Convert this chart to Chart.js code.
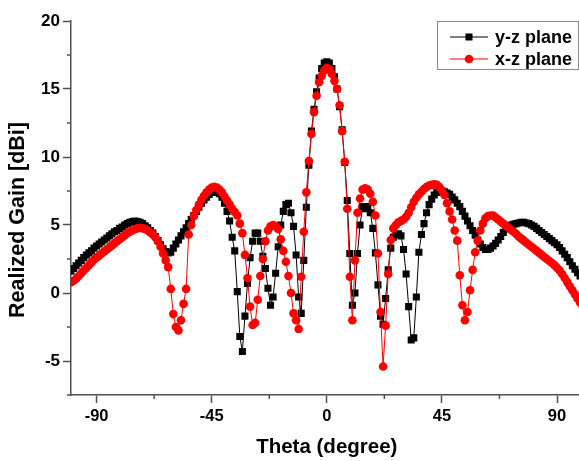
<!DOCTYPE html>
<html>
<head>
<meta charset="utf-8">
<script src="https://cdn.jsdelivr.net/npm/chart.js@4/dist/chart.umd.min.js"></script>
<style>
  html, body { margin: 0; padding: 0; background: #fff; overflow: hidden; }
  #wrap { width: 579px; height: 461px; overflow: hidden; }
</style>
</head>
<body>
<div id="wrap"><canvas id="gain" width="600" height="461"></canvas></div>
<script>
// sample angles, 1 degree apart
const theta = Array.from({ length: 201 }, (_, i) => i - 100);

// y-z plane, -100 .. 100 deg
const yzPlane = [
  1.6, 1.8, 2.0, 2.2, 2.4, 2.6, 2.8, 2.95, 3.1, 3.3,
  3.45, 3.6, 3.75, 3.9, 4.05, 4.2, 4.35, 4.5, 4.6, 4.75,
  4.85, 5.0, 5.1, 5.2, 5.25, 5.3, 5.25, 5.2, 5.1, 4.95,
  4.8, 4.6, 4.4, 4.15, 3.85, 3.55, 3.25, 3.05, 2.95, 3.0,
  3.3, 3.6, 3.9, 4.2, 4.5, 4.8, 5.1, 5.4, 5.7, 6.0,
  6.3, 6.6, 6.85, 7.05, 7.25, 7.4, 7.45, 7.4, 7.3, 7.05,
  6.6, 6.0, 5.3, 4.1, 3.1, 0.1, -3.2, -4.3, -1.7, 0.7,
  2.6, 3.8, 4.4, 4.4, 3.8, 2.7, 1.8, 0.35, -0.9, -0.3,
  1.45, 3.4, 5.0, 6.0, 6.5, 6.6, 5.9, 4.9, 2.8, -0.3,
  -1.5, 2.4, 6.3, 9.4, 11.9, 13.5, 14.8, 15.8, 16.5, 16.9,
  17.0,
  16.9, 16.5, 15.9, 15.0, 13.7, 12.0, 9.6, 6.8, 2.9, -0.9,
  0.0, 2.9, 5.0, 6.35, 6.2, 6.35, 5.9, 4.75, 2.95, 0.6,
  -1.7, -2.3, -0.4, 1.7, 3.3, 4.1, 4.3, 4.35, 4.2, 3.2,
  1.4, -1.0, -3.45, -3.3, -0.3, 3.0, 4.3, 5.1, 5.9, 6.5,
  6.9, 7.2, 7.4, 7.5, 7.5, 7.45, 7.35, 7.25, 7.05, 6.85,
  6.6, 6.35, 6.0, 5.65, 5.3, 4.95, 4.6, 4.25, 3.9, 3.6,
  3.35, 3.2, 3.2, 3.3, 3.45, 3.65, 3.9, 4.15, 4.45, 4.7,
  4.85, 5.0, 5.05, 5.1, 5.15, 5.2, 5.2, 5.15, 5.1, 5.0,
  4.9, 4.75, 4.6, 4.45, 4.3, 4.15, 4.0, 3.85, 3.7, 3.55,
  3.35, 3.1, 2.85, 2.6, 2.3, 2.0, 1.75, 1.5, 1.25, 1.0
];

// x-z plane, -100 .. 100 deg
const xzPlane = [
  0.8, 0.9, 1.05, 1.25, 1.45, 1.65, 1.85, 2.05, 2.25, 2.45,
  2.6, 2.75, 2.9, 3.05, 3.2, 3.35, 3.5, 3.65, 3.8, 3.95,
  4.1, 4.25, 4.4, 4.5, 4.6, 4.7, 4.75, 4.8, 4.75, 4.7,
  4.6, 4.45, 4.3, 4.1, 3.8, 3.4, 2.9, 2.4, 1.9, 0.3,
  -1.55, -2.5, -2.75, -2.0, -0.8, 0.3, 4.3, 5.0, 5.65, 6.1,
  6.5, 6.85, 7.15, 7.4, 7.6, 7.75, 7.8, 7.75, 7.6, 7.4,
  7.1, 6.8, 6.5, 6.2, 5.95, 5.7, 5.1, 4.4, 2.8, 1.1,
  -1.0, -2.35, -2.2, -0.5, 1.25, 2.5, 3.8, 4.6, 4.9, 5.0,
  4.9, 4.7, 3.95, 3.1, 2.3, 1.25, 0.0, -1.5, -2.0, -2.65,
  1.2, 4.5, 7.4, 9.7, 11.7, 13.3, 14.5, 15.5, 15.95, 16.35,
  16.55,
  16.45, 16.1, 15.6, 15.0, 13.8, 11.9, 9.65, 6.2, 1.2, -2.0,
  2.4, 5.9, 6.95, 7.6, 7.7, 7.6, 7.3, 6.7, 5.7, 2.9,
  -1.4, -5.4, -2.4, 1.4, 3.9, 4.75, 5.0, 5.2, 5.3, 5.4,
  5.6, 5.9, 6.3, 6.7, 7.0, 7.25, 7.45, 7.65, 7.8, 7.9,
  7.95, 8.0, 7.95, 7.8, 7.55, 7.2, 6.6, 6.0, 5.4, 4.6,
  3.85, 1.3, -0.9, -2.0, -1.4, 0.2, 1.7, 3.0, 3.85, 4.6,
  5.1, 5.5, 5.65, 5.7, 5.7, 5.55, 5.4, 5.25, 5.1, 4.95,
  4.8, 4.65, 4.5, 4.35, 4.15, 4.0, 3.85, 3.7, 3.55, 3.4,
  3.25, 3.1, 2.95, 2.8, 2.65, 2.5, 2.35, 2.2, 2.05, 1.85,
  1.65, 1.4, 1.1, 0.8, 0.5, 0.2, -0.1, -0.4, -0.7, -1.0
];

const xTicks = [-90, -45, 0, 45, 90];
const xMinor = [-67.5, -22.5, 22.5, 67.5];
const yTicks = [-5, 0, 5, 10, 15, 20];
const yMinor = [-7.5, -2.5, 2.5, 7.5, 12.5, 17.5];
const seriesNames = ["y-z plane", "x-z plane"];

const axisColor = "#505050";
const font = '"Liberation Sans", Arial, sans-serif';

const toPoints = (vals) => theta.map((t, i) => ({ x: t, y: vals[i] }));

// titles, minor ticks and the boxed legend
const extras = {
  id: "extras",
  afterDraw(chart) {
    const ctx = chart.ctx;
    const xs = chart.scales.x;
    const ys = chart.scales.y;
    const area = chart.chartArea;

    ctx.save();
    ctx.strokeStyle = axisColor;
    ctx.lineWidth = 1.5;
    ctx.beginPath();
    xMinor.forEach((v) => {
      const px = xs.getPixelForValue(v);
      ctx.moveTo(px, area.bottom);
      ctx.lineTo(px, area.bottom + 4);
    });
    yMinor.forEach((v) => {
      const py = ys.getPixelForValue(v);
      ctx.moveTo(area.left, py);
      ctx.lineTo(area.left - 4, py);
    });
    ctx.stroke();

    ctx.fillStyle = "#000";
    ctx.font = "bold 20.5px " + font;
    ctx.textAlign = "center";
    ctx.textBaseline = "middle";
    ctx.fillText("Theta (degree)", (area.left + area.right) / 2, 447);

    ctx.save();
    ctx.translate(18, 220);
    ctx.rotate(-Math.PI / 2);
    ctx.font = "bold 21.5px " + font;
    ctx.fillText("Realized Gain [dBi]", 0, 0);
    ctx.restore();

    // legend box
    ctx.strokeStyle = "#8a8a8a";
    ctx.lineWidth = 1;
    ctx.strokeRect(437.5, 21.5, 141, 48);

    const rows = [
      { y: 37, color: "#000000", style: "rect" },
      { y: 59, color: "#ff0000", style: "circle" },
    ];
    rows.forEach((r, i) => {
      ctx.strokeStyle = r.color;
      ctx.lineWidth = 1;
      ctx.beginPath();
      ctx.moveTo(450, r.y);
      ctx.lineTo(488, r.y);
      ctx.stroke();
      ctx.fillStyle = r.color;
      if (r.style === "rect") {
        ctx.fillRect(465.5, r.y - 3.5, 7, 7);
      } else {
        ctx.beginPath();
        ctx.arc(469, r.y, 4.3, 0, Math.PI * 2);
        ctx.fill();
      }
      ctx.fillStyle = "#000";
      ctx.font = "bold 18px " + font;
      ctx.textAlign = "left";
      ctx.fillText(seriesNames[i], 495, r.y + 1);
    });
    ctx.restore();
  },
};

new Chart(document.getElementById("gain"), {
  type: "line",
  data: {
    datasets: [
      {
        label: seriesNames[0],
        data: toPoints(yzPlane),
        borderColor: "#000000",
        backgroundColor: "#000000",
        borderWidth: 1,
        pointStyle: "rect",
        pointRadius: 5,
        pointBorderWidth: 0,
        pointBackgroundColor: "#000000",
        tension: 0,
        clip: 0,
        order: 1,
      },
      {
        label: seriesNames[1],
        data: toPoints(xzPlane),
        borderColor: "#ff0000",
        backgroundColor: "#ff0000",
        borderWidth: 1,
        pointStyle: "circle",
        pointRadius: 4.3,
        pointBorderWidth: 0,
        pointBackgroundColor: "#ff0000",
        tension: 0,
        clip: 0,
        order: 0,
      },
    ],
  },
  options: {
    responsive: false,
    animation: false,
    events: [],
    layout: { padding: { top: 21, right: 17.4, left: 0, bottom: 0 } },
    plugins: { legend: { display: false }, tooltip: { enabled: false } },
    scales: {
      x: {
        type: "linear",
        min: -100,
        max: 100,
        afterBuildTicks: (s) => { s.ticks = xTicks.map((v) => ({ value: v })); },
        afterFit: (s) => { s.height = 66; },
        grid: { drawOnChartArea: false, tickLength: 8, tickColor: axisColor, tickWidth: 1.5 },
        border: { color: axisColor, width: 1.5 },
        ticks: {
          autoSkip: false,
          maxRotation: 0,
          padding: 4,
          color: "#000",
          font: { family: font, size: 16.5, weight: "bold" },
        },
      },
      y: {
        min: -7.5,
        max: 20,
        afterBuildTicks: (s) => { s.ticks = yTicks.map((v) => ({ value: v })); },
        afterFit: (s) => { s.width = 71; },
        grid: { drawOnChartArea: false, tickLength: 8, tickColor: axisColor, tickWidth: 1.5 },
        border: { color: axisColor, width: 1.5 },
        ticks: {
          padding: 3,
          color: "#000",
          font: { family: font, size: 17, weight: "bold" },
        },
      },
    },
  },
  plugins: [extras],
});
</script>
</body>
</html>
